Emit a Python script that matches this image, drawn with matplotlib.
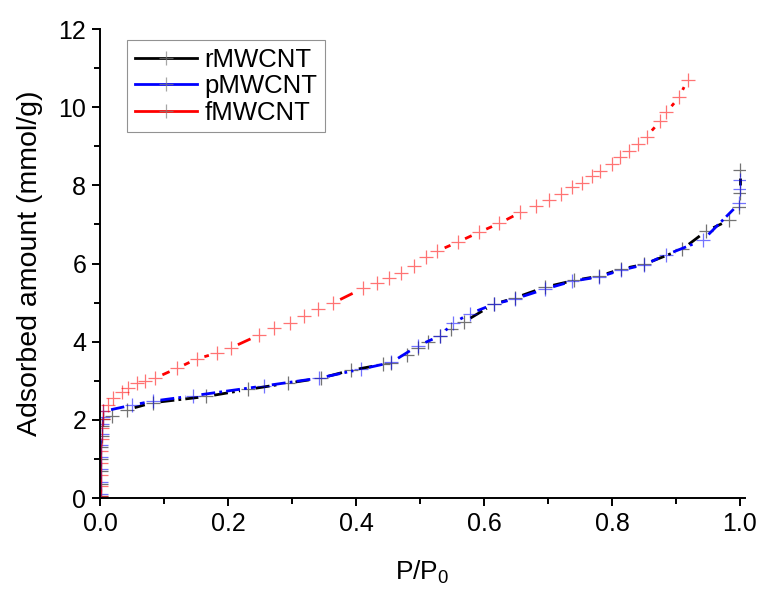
import matplotlib.pyplot as plt
import numpy as np
from matplotlib.collections import LineCollection
from matplotlib.lines import Line2D

plt.rcParams['font.family'] = ['Liberation Sans', 'DejaVu Sans']
plt.rcParams['mathtext.fontset'] = 'custom'
plt.rcParams['mathtext.rm'] = 'Liberation Sans'

r_x = [0.001, 0.001, 0.002, 0.002, 0.002, 0.003, 0.003, 0.004, 0.019, 0.042, 0.082, 0.166,
       0.231, 0.293, 0.345, 0.392, 0.442, 0.455, 0.479, 0.497, 0.513, 0.531, 0.549, 0.568,
       0.615, 0.648, 0.696, 0.741, 0.78, 0.814, 0.85, 0.91, 0.947, 0.983, 0.999, 1.0, 1.0]
r_y = [0.05, 0.35, 0.7, 1.0, 1.3, 1.6, 1.85, 2.02, 2.1, 2.26, 2.44, 2.6,
       2.78, 2.94, 3.07, 3.27, 3.42, 3.45, 3.66, 3.83, 4.0, 4.14, 4.32, 4.5,
       4.96, 5.12, 5.4, 5.57, 5.68, 5.86, 5.98, 6.37, 6.83, 7.11, 7.44, 7.8, 8.39]

p_x = [0.001, 0.001, 0.002, 0.002, 0.002, 0.003, 0.003, 0.004, 0.005, 0.05, 0.082, 0.146,
       0.256, 0.342, 0.408, 0.455, 0.497, 0.531, 0.552, 0.578, 0.615, 0.649, 0.696, 0.738,
       0.78, 0.814, 0.85, 0.884, 0.942, 0.999, 1.0, 1.0]
p_y = [0.1, 0.4, 0.75, 1.05, 1.35, 1.65, 1.9, 2.08, 2.22, 2.38, 2.48, 2.62,
       2.87, 3.07, 3.3, 3.47, 3.9, 4.15, 4.48, 4.72, 4.96, 5.1, 5.35, 5.55,
       5.66, 5.83, 5.97, 6.22, 6.6, 7.54, 7.9, 8.13]

f_x = [0.001, 0.001, 0.002, 0.002, 0.002, 0.003, 0.003, 0.004, 0.005, 0.013, 0.02, 0.034,
       0.044, 0.058, 0.071, 0.086, 0.12, 0.151, 0.182, 0.204, 0.248, 0.272, 0.297, 0.319,
       0.34, 0.364, 0.411, 0.432, 0.452, 0.471, 0.49, 0.509, 0.527, 0.559, 0.592, 0.624,
       0.657, 0.681, 0.701, 0.72, 0.738, 0.753, 0.769, 0.782, 0.8, 0.813, 0.827, 0.84,
       0.854, 0.875, 0.885, 0.905, 0.918]
f_y = [0.05, 0.3, 0.6, 0.9, 1.2, 1.5, 1.8, 2.02, 2.24, 2.39, 2.57, 2.72,
       2.82, 2.94, 3.0, 3.07, 3.32, 3.56, 3.71, 3.84, 4.17, 4.35, 4.48, 4.66,
       4.83, 4.99, 5.37, 5.5, 5.63, 5.76, 5.94, 6.16, 6.32, 6.55, 6.8, 7.03,
       7.31, 7.47, 7.62, 7.78, 7.95, 8.05, 8.23, 8.36, 8.54, 8.72, 8.87, 9.05,
       9.25, 9.64, 9.87, 10.26, 10.7]

series = [('rMWCNT', r_x, r_y, 'black'),
          ('pMWCNT', p_x, p_y, '#0000ff'),
          ('fMWCNT', f_x, f_y, '#ff0000')]

fig = plt.figure(figsize=(7.58, 5.93), dpi=100)
ax = fig.add_axes([0.132, 0.160, 0.851, 0.791])
ax.set_xlim(0, 1.008)
ax.set_ylim(0, 12)

gap = 8.0  # px gap between line and symbol, like Origin
for name, xs, ys, col in series:
    pts = ax.transData.transform(np.column_stack([xs, ys]))
    segs = []
    for a, b in zip(pts[:-1], pts[1:]):
        d = b - a
        L = np.hypot(*d)
        if L <= 2 * gap + 2:
            continue
        u = d / L
        segs.append(ax.transData.inverted().transform([a + u * gap, b - u * gap]))
    lc = LineCollection(segs, colors=col, linewidths=2.0,
                        linestyles=[(0, (5, 1.5, 1, 1.5))])
    ax.add_collection(lc)
    ax.plot(xs, ys, linestyle='none', marker='+', markersize=10, mew=0.9,
            markeredgecolor=col, alpha=0.55)

handles = [Line2D([], [], color=c, lw=2.0, marker='+', markersize=10, mew=0.9,
                  markeredgecolor=c) for _, _, _, c in series]
leg = ax.legend(handles, [s[0] for s in series], loc='upper left',
                bbox_to_anchor=(0.042, 0.977), borderaxespad=0, fontsize=18.5,
                fancybox=False, edgecolor='#777777', handlelength=2.4,
                handletextpad=0.3, labelspacing=0.1, borderpad=0.3, numpoints=1)
leg.get_frame().set_linewidth(0.8)
for h in leg.legend_handles:
    h.set_markeredgecolor((0.5, 0.5, 0.5, 0.7))

ax.spines['top'].set_visible(False)
ax.spines['right'].set_visible(False)
for s in ['left', 'bottom']:
    ax.spines[s].set_linewidth(1.4)

ax.set_xticks(np.arange(0, 1.01, 0.2))
ax.set_xticks(np.arange(0.1, 1.0, 0.2), minor=True)
ax.set_yticks(np.arange(0, 13, 2))
ax.set_yticks(np.arange(1, 12, 2), minor=True)
ax.set_xticklabels(['0.0', '0.2', '0.4', '0.6', '0.8', '1.0'])
ax.tick_params(which='major', direction='out', length=6, width=1.4, labelsize=18, pad=4)
ax.tick_params(which='minor', direction='out', length=4, width=1.4)

ax.set_xlabel('P/P$_\\mathregular{0}$', fontsize=19, labelpad=16)
ax.set_ylabel('Adsorbed amount (mmol/g)', fontsize=20.5, labelpad=11)

fig.savefig('out.png', dpi=100)
